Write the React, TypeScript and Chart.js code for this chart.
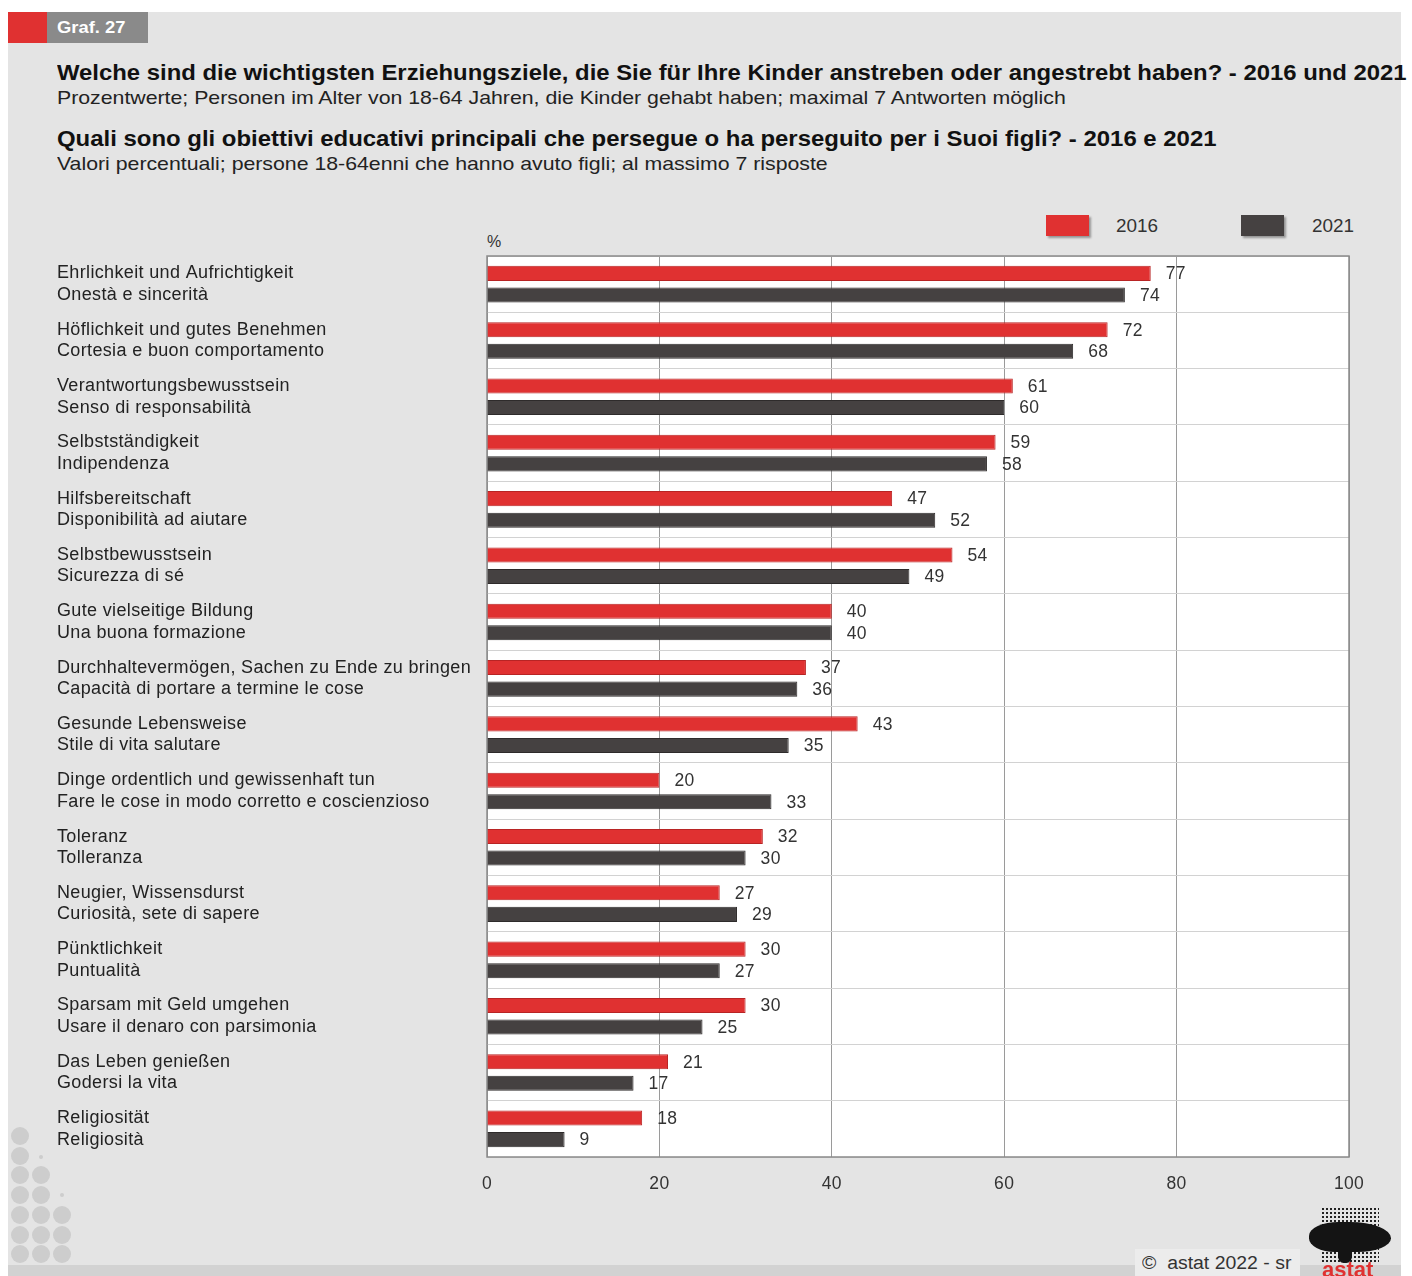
import React, { useEffect, useRef } from "react";
import { Chart, registerables } from "chart.js";

Chart.register(...registerables);

const categories: string[][] = [
  ["Ehrlichkeit und Aufrichtigkeit", "Onestà e sincerità"],
  ["Höflichkeit und gutes Benehmen", "Cortesia e buon comportamento"],
  ["Verantwortungsbewusstsein", "Senso di responsabilità"],
  ["Selbstständigkeit", "Indipendenza"],
  ["Hilfsbereitschaft", "Disponibilità ad aiutare"],
  ["Selbstbewusstsein", "Sicurezza di sé"],
  ["Gute vielseitige Bildung", "Una buona formazione"],
  ["Durchhaltevermögen, Sachen zu Ende zu bringen", "Capacità di portare a termine le cose"],
  ["Gesunde Lebensweise", "Stile di vita salutare"],
  ["Dinge ordentlich und gewissenhaft tun", "Fare le cose in modo corretto e coscienzioso"],
  ["Toleranz", "Tolleranza"],
  ["Neugier, Wissensdurst", "Curiosità, sete di sapere"],
  ["Pünktlichkeit", "Puntualità"],
  ["Sparsam mit Geld umgehen", "Usare il denaro con parsimonia"],
  ["Das Leben genießen", "Godersi la vita"],
  ["Religiosität", "Religiosità"],
];

const values2016: number[] = [77, 72, 61, 59, 47, 54, 40, 37, 43, 20, 32, 27, 30, 30, 21, 18];
const values2021: number[] = [74, 68, 60, 58, 52, 49, 40, 36, 35, 33, 30, 29, 27, 25, 17, 9];
const seriesNames: string[] = ["2016", "2021"];
const xMin = 0;
const xMax = 100;
const xStep = 20;

const FONT = "'Liberation Sans', Arial, Helvetica, sans-serif";
const RED = "#e03131";
const RED_BORDER = "#b82424";
const DARK = "#454141";
const DARK_BORDER = "#2e2b2b";
const PANEL = "#e4e4e4";

const plotFrame = {
  id: "plotFrame",
  beforeDraw(chart: any) {
    const { ctx, chartArea } = chart;
    (ctx as any).letterSpacing = "0.35px";
    ctx.save();
    ctx.fillStyle = "#ffffff";
    ctx.fillRect(chartArea.left, chartArea.top, chartArea.right - chartArea.left, chartArea.bottom - chartArea.top);
    ctx.restore();
  },
  beforeDatasetsDraw(chart: any) {
    const { ctx, chartArea } = chart;
    ctx.save();
    ctx.strokeStyle = "#8a8a8a";
    ctx.lineWidth = 1.5;
    ctx.strokeRect(chartArea.left, chartArea.top, chartArea.right - chartArea.left, chartArea.bottom - chartArea.top);
    ctx.restore();
  },
};

const valueLabels = {
  id: "valueLabels",
  afterDatasetsDraw(chart: any) {
    const ctx = chart.ctx;
    ctx.save();
    ctx.letterSpacing = "0.3px";
    ctx.font = `17.5px ${FONT}`;
    ctx.fillStyle = "#333333";
    ctx.textBaseline = "middle";
    ctx.textAlign = "left";
    chart.data.datasets.forEach((ds: any, i: number) => {
      const meta = chart.getDatasetMeta(i);
      meta.data.forEach((bar: any, j: number) => {
        ctx.fillText(String(ds.data[j]), bar.x + 15, bar.y + 1);
      });
    });
    ctx.restore();
  },
};

function BarChart() {
  const ref = useRef<HTMLCanvasElement | null>(null);
  useEffect(() => {
    if (!ref.current) return;
    const chart = new Chart(ref.current, {
      type: "bar",
      data: {
        labels: categories,
        datasets: [
          {
            label: seriesNames[0],
            data: values2016,
            backgroundColor: RED,
            borderColor: RED_BORDER,
            borderWidth: 1,
            categoryPercentage: 0.765,
            barPercentage: 0.7,
          },
          {
            label: seriesNames[1],
            data: values2021,
            backgroundColor: DARK,
            borderColor: DARK_BORDER,
            borderWidth: 1,
            categoryPercentage: 0.765,
            barPercentage: 0.7,
          },
        ],
      },
      options: {
        indexAxis: "y",
        animation: false,
        responsive: true,
        maintainAspectRatio: false,
        layout: { padding: { left: 17, right: 51, top: 26, bottom: 0 } },
        plugins: {
          legend: { display: false },
          tooltip: { enabled: false },
          title: { display: false },
        },
        scales: {
          x: {
            type: "linear",
            min: xMin,
            max: xMax,
            afterFit: (s: any) => {
              s.height = 53;
            },
            ticks: {
              stepSize: xStep,
              color: "#333333",
              font: { family: FONT, size: 17.5 },
              padding: 17,
            },
            grid: { color: "#9a9a9a", lineWidth: 1, drawTicks: false },
            border: { display: false },
          },
          y: {
            type: "category",
            afterFit: (s: any) => {
              s.width = 430;
            },
            ticks: {
              crossAlign: "far",
              color: "#222222",
              autoSkip: false,
              font: { family: FONT, size: 18, lineHeight: "21.5px" },
            },
            grid: { color: "#d2d2d2", lineWidth: 1, drawTicks: false, offset: true },
            border: { display: false },
          },
        },
      },
      plugins: [plotFrame, valueLabels],
    } as any);
    return () => chart.destroy();
  }, []);
  return <canvas ref={ref} />;
}

const dots: { x: number; y: number; r: number }[] = [
  { x: 20, y: 1136, r: 9 },
  { x: 20, y: 1156, r: 9 },
  { x: 41, y: 1157, r: 2 },
  { x: 20, y: 1175, r: 9 },
  { x: 41, y: 1175, r: 9 },
  { x: 20, y: 1195, r: 9 },
  { x: 41, y: 1195, r: 9 },
  { x: 62, y: 1195, r: 2 },
  { x: 20, y: 1215, r: 9 },
  { x: 41, y: 1215, r: 9 },
  { x: 62, y: 1215, r: 9 },
  { x: 20, y: 1235, r: 9 },
  { x: 41, y: 1235, r: 9 },
  { x: 62, y: 1235, r: 9 },
  { x: 20, y: 1254, r: 9 },
  { x: 41, y: 1254, r: 9 },
  { x: 62, y: 1254, r: 9 },
];

export default function App() {
  const abs = (o: React.CSSProperties): React.CSSProperties => ({ position: "absolute", ...o });
  const stretch = (k: number): React.CSSProperties => ({ transform: `scaleX(${k})`, transformOrigin: "0 50%" });
  return (
    <div style={abs({ left: 0, top: 0, width: 1412, height: 1276, overflow: "hidden", background: "#ffffff", fontFamily: FONT, color: "#111" })}>
      <div style={abs({ left: 8, top: 12, width: 1393, height: 1264, background: PANEL })} />
      <div style={abs({ left: 8, top: 1265, width: 1393, height: 11, background: "#d2d2d2" })} />
      {/* header tag */}
      <div style={abs({ left: 8, top: 12, width: 39, height: 31, background: "#e03131" })} />
      <div style={abs({ left: 47, top: 12, width: 101, height: 31, background: "#8a8a8a" })} />
      <div style={abs({ left: 57, top: 12, height: 31, lineHeight: "31px", color: "#fff", fontWeight: "bold", fontSize: 17, ...stretch(1.08) })}>Graf. 27</div>
      {/* titles */}
      <div style={abs({ left: 57, top: 60, whiteSpace: "nowrap", fontWeight: "bold", fontSize: 21.5, lineHeight: "26px", ...stretch(1.11) })}>
        Welche sind die wichtigsten Erziehungsziele, die Sie für Ihre Kinder anstreben oder angestrebt haben? - 2016 und 2021
      </div>
      <div style={abs({ left: 57, top: 87, whiteSpace: "nowrap", fontSize: 18.5, lineHeight: "22px", color: "#222", ...stretch(1.15) })}>
        Prozentwerte; Personen im Alter von 18-64 Jahren, die Kinder gehabt haben; maximal 7 Antworten möglich
      </div>
      <div style={abs({ left: 57, top: 126, whiteSpace: "nowrap", fontWeight: "bold", fontSize: 21.5, lineHeight: "26px", ...stretch(1.113) })}>
        Quali sono gli obiettivi educativi principali che persegue o ha perseguito per i Suoi figli? - 2016 e 2021
      </div>
      <div style={abs({ left: 57, top: 153, whiteSpace: "nowrap", fontSize: 18.5, lineHeight: "22px", color: "#222", ...stretch(1.15) })}>
        Valori percentuali; persone 18-64enni che hanno avuto figli; al massimo 7 risposte
      </div>
      {/* legend */}
      <div style={abs({ left: 1046, top: 215, width: 43, height: 21, background: RED, boxShadow: "2px 2px 2px rgba(0,0,0,0.35)" })} />
      <div style={abs({ left: 1116, top: 214, lineHeight: "24px", fontSize: 18, color: "#333", ...stretch(1.05) })}>{seriesNames[0]}</div>
      <div style={abs({ left: 1241, top: 215, width: 43, height: 21, background: DARK, boxShadow: "2px 2px 2px rgba(0,0,0,0.35)" })} />
      <div style={abs({ left: 1312, top: 214, lineHeight: "24px", fontSize: 18, color: "#333", ...stretch(1.05) })}>{seriesNames[1]}</div>
      <div style={abs({ left: 487, top: 232, lineHeight: "20px", fontSize: 16, color: "#333" })}>%</div>
      {/* chart */}
      <div style={abs({ left: 40, top: 230, width: 1360, height: 980 })}>
        <BarChart />
      </div>
      {/* decorative dots */}
      {dots.map((d, i) => (
        <div key={i} style={abs({ left: d.x - d.r, top: d.y - d.r, width: d.r * 2, height: d.r * 2, borderRadius: "50%", background: "#cdcdcd" })} />
      ))}
      {/* footer */}
      <div style={abs({ left: 1135, top: 1249, width: 165, height: 27, background: "#ececec" })} />
      <div style={abs({ left: 1142, top: 1251, lineHeight: "24px", fontSize: 18, color: "#333", whiteSpace: "nowrap", ...stretch(1.08) })}>©&nbsp; astat 2022 - sr</div>
      {/* logo */}
      <div
        style={abs({
          left: 1321,
          top: 1207,
          width: 58,
          height: 56,
          backgroundImage: "radial-gradient(circle, #222 1.2px, transparent 1.5px)",
          backgroundSize: "4px 4px",
        })}
      />
      <div style={abs({ left: 1309, top: 1222, width: 82, height: 30, borderRadius: "40% 55% 45% 35% / 50% 60% 50% 50%", background: "#141414" })} />
      <div style={abs({ left: 1338, top: 1245, width: 14, height: 18, borderRadius: "0 0 40% 40%", background: "#141414" })} />
      <div style={abs({ left: 1322, top: 1258, lineHeight: "24px", fontSize: 22, fontWeight: "bold", color: "#e03131" })}>astat</div>
    </div>
  );
}
